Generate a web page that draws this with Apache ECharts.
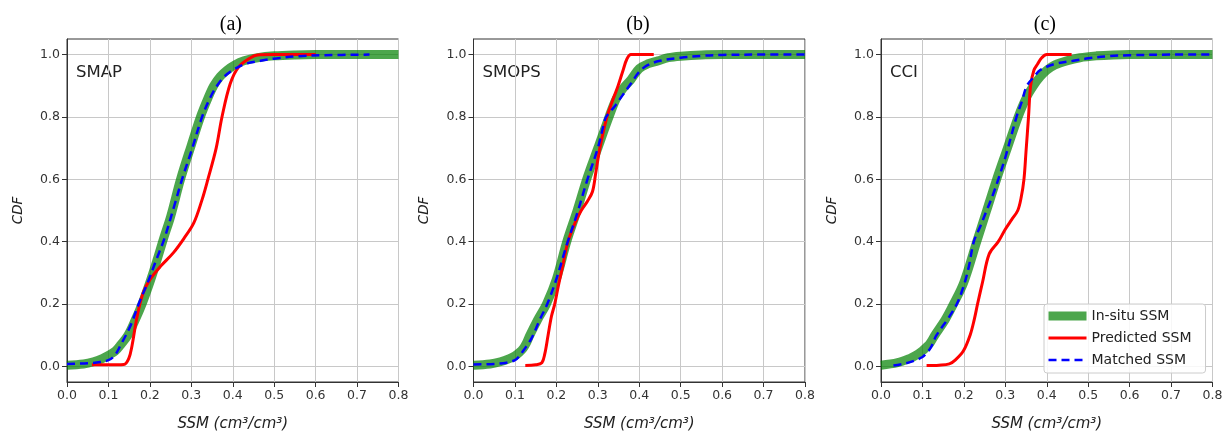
<!DOCTYPE html>
<html><head><meta charset="utf-8">
<script src="https://cdn.jsdelivr.net/npm/echarts@6.0.0/dist/echarts.min.js"></script>
<style>html,body{margin:0;padding:0;background:#fff}#c{width:1223px;height:431px}</style>
</head><body><div id="c"></div>
<script>
// ---- data (SSM value, CDF) ----
const panelTitles = ['(a)', '(b)', '(c)'];
const productNames = ['SMAP', 'SMOPS', 'CCI'];
const seriesNames = ['In-situ SSM', 'Predicted SSM', 'Matched SSM'];
const xTicks = [0, 0.1, 0.2, 0.3, 0.4, 0.5, 0.6, 0.7, 0.8];
const yTicks = [0, 0.2, 0.4, 0.6, 0.8, 1.0];

const smapInsitu = [[0,0.004],[0.04,0.008],[0.064,0.015],[0.085,0.025],[0.1,0.035],[0.117,0.05],[0.13,0.07],[0.147,0.1],[0.165,0.15],[0.181,0.2],[0.2,0.27],[0.217,0.34],[0.233,0.41],[0.25,0.48],[0.274,0.6],[0.3,0.71],[0.322,0.8],[0.34,0.86],[0.354,0.9],[0.37,0.93],[0.386,0.95],[0.405,0.967],[0.427,0.98],[0.46,0.99],[0.5,0.996],[0.55,0.999],[0.6,1.0],[0.8,1.0]];
const smapPredicted = [[0.06,0.005],[0.1,0.005],[0.137,0.006],[0.149,0.025],[0.157,0.067],[0.165,0.13],[0.173,0.184],[0.185,0.24],[0.201,0.28],[0.225,0.32],[0.257,0.365],[0.282,0.41],[0.306,0.46],[0.326,0.535],[0.34,0.6],[0.36,0.7],[0.374,0.8],[0.394,0.907],[0.414,0.96],[0.443,0.99],[0.46,0.999],[0.5,1.0],[0.6,1.0]];
const smapMatched = [[0,0.008],[0.05,0.01],[0.08,0.014],[0.1,0.02],[0.115,0.035],[0.129,0.067],[0.153,0.13],[0.173,0.2],[0.195,0.27],[0.215,0.34],[0.235,0.41],[0.26,0.52],[0.28,0.61],[0.3,0.69],[0.326,0.8],[0.345,0.86],[0.362,0.9],[0.38,0.93],[0.4,0.95],[0.43,0.97],[0.467,0.98],[0.5,0.987],[0.56,0.995],[0.62,0.998],[0.73,1.0]];

const smopsInsitu = [[0,0.004],[0.04,0.008],[0.065,0.015],[0.085,0.024],[0.1,0.034],[0.11,0.044],[0.12,0.058],[0.128,0.076],[0.136,0.1],[0.155,0.15],[0.176,0.2],[0.2,0.28],[0.225,0.4],[0.25,0.5],[0.273,0.6],[0.3,0.7],[0.327,0.8],[0.345,0.86],[0.36,0.89],[0.38,0.92],[0.4,0.955],[0.42,0.97],[0.445,0.98],[0.47,0.99],[0.5,0.995],[0.55,0.999],[0.6,1.0],[0.8,1.0]];
const smopsPredicted = [[0.125,0.003],[0.15,0.005],[0.165,0.012],[0.172,0.04],[0.18,0.1],[0.188,0.16],[0.196,0.2],[0.205,0.26],[0.215,0.32],[0.228,0.4],[0.245,0.46],[0.26,0.5],[0.275,0.53],[0.287,0.56],[0.295,0.62],[0.305,0.7],[0.322,0.8],[0.335,0.85],[0.349,0.9],[0.361,0.95],[0.37,0.985],[0.38,1.0],[0.435,1.0]];
const smopsMatched = [[0,0.006],[0.05,0.008],[0.08,0.012],[0.1,0.02],[0.11,0.032],[0.12,0.05],[0.14,0.09],[0.16,0.15],[0.178,0.2],[0.2,0.28],[0.225,0.39],[0.25,0.49],[0.275,0.6],[0.3,0.7],[0.315,0.78],[0.32,0.8],[0.34,0.833],[0.36,0.87],[0.38,0.907],[0.4,0.945],[0.42,0.966],[0.45,0.98],[0.5,0.99],[0.55,0.996],[0.6,0.999],[0.7,1.0],[0.8,1.0]];

const cciInsitu = [[0,0.004],[0.04,0.012],[0.07,0.026],[0.085,0.036],[0.1,0.05],[0.108,0.06],[0.118,0.074],[0.13,0.1],[0.155,0.15],[0.175,0.2],[0.2,0.27],[0.231,0.4],[0.255,0.5],[0.279,0.6],[0.305,0.7],[0.331,0.8],[0.35,0.86],[0.368,0.9],[0.385,0.93],[0.4,0.95],[0.42,0.967],[0.448,0.98],[0.48,0.99],[0.52,0.996],[0.56,0.999],[0.6,1.0],[0.8,1.0]];
const cciPredicted = [[0.11,0.003],[0.14,0.004],[0.165,0.008],[0.179,0.02],[0.199,0.05],[0.215,0.1],[0.225,0.15],[0.233,0.2],[0.245,0.27],[0.261,0.36],[0.283,0.4],[0.3,0.44],[0.315,0.47],[0.33,0.5],[0.338,0.54],[0.345,0.6],[0.35,0.69],[0.356,0.8],[0.361,0.9],[0.369,0.95],[0.378,0.97],[0.388,0.99],[0.4,1.0],[0.46,1.0]];
const cciMatched = [[0.03,0.003],[0.06,0.01],[0.08,0.018],[0.1,0.03],[0.11,0.043],[0.12,0.06],[0.134,0.1],[0.16,0.15],[0.183,0.2],[0.2,0.26],[0.212,0.32],[0.224,0.4],[0.24,0.45],[0.255,0.5],[0.27,0.55],[0.283,0.6],[0.3,0.67],[0.327,0.8],[0.34,0.85],[0.352,0.9],[0.37,0.93],[0.384,0.95],[0.42,0.97],[0.464,0.98],[0.5,0.988],[0.55,0.995],[0.6,0.998],[0.7,1.0],[0.8,1.0]];

const panelData = [
  [smapInsitu, smapPredicted, smapMatched],
  [smopsInsitu, smopsPredicted, smopsMatched],
  [cciInsitu, cciPredicted, cciMatched]
];

// ---- layout / style ----
const gridLeft = [67, 473.5, 881];
const gridTop = 39, gridW = 331.5, gridH = 343;
const axisColor = '#333';
const sans = 'DejaVu Sans';
const lineStyles = [
  {color: 'rgba(0,128,0,0.7)', width: 9, type: 'solid', join: 'round'},
  {color: '#ff0000', width: 3, type: 'solid', join: 'round'},
  {color: '#0000ff', width: 2.5, type: [8, 5], join: 'round'}
];

const grids = [], xAxes = [], yAxes = [], series = [], graphics = [];
for (let i = 0; i < 3; i++) {
  grids.push({left: gridLeft[i], top: gridTop, width: gridW, height: gridH,
    outerBoundsMode: 'none', containLabel: false,
    show: true, borderColor: axisColor, borderWidth: 1, backgroundColor: 'transparent'});
  xAxes.push({type: 'value', gridIndex: i, min: 0, max: 0.8, interval: 0.1,
    name: 'SSM (cm³/cm³)', nameLocation: 'middle', nameGap: 35,
    nameTextStyle: {fontFamily: sans, fontStyle: 'italic', fontSize: 15, color: '#222'},
    axisLine: {show: true, onZero: false, lineStyle: {color: axisColor}},
    axisTick: {show: true, length: 5, lineStyle: {color: axisColor}},
    axisLabel: {fontFamily: sans, fontSize: 12.5, color: '#333', margin: 7,
      formatter: v => v.toFixed(1), customValues: xTicks},
    splitLine: {show: true, lineStyle: {color: '#c8c8c8', width: 1}}});
  yAxes.push({type: 'value', gridIndex: i, min: -0.05, max: 1.05,
    name: 'CDF', nameLocation: 'middle', nameGap: 42,
    nameTextStyle: {fontFamily: sans, fontStyle: 'italic', fontSize: 13.5, color: '#222'},
    axisLine: {show: true, onZero: false, lineStyle: {color: axisColor}},
    axisTick: {show: true, length: 5, lineStyle: {color: axisColor}, customValues: yTicks},
    axisLabel: {fontFamily: sans, fontSize: 12.5, color: '#333', margin: 7,
      formatter: v => v.toFixed(1), customValues: yTicks},
    splitLine: {show: true, lineStyle: {color: '#c8c8c8', width: 1}}});
  for (let k = 0; k < 3; k++) {
    series.push({type: 'line', name: seriesNames[k], xAxisIndex: i, yAxisIndex: i,
      data: panelData[i][k], symbol: 'none', showSymbol: false,
      smooth: 0.35, lineStyle: lineStyles[k],
      itemStyle: {color: lineStyles[k].color}, z: 2 + k, animation: false});
  }
  graphics.push({type: 'text', left: gridLeft[i] + gridW / 2 - 13, top: 15,
    style: {text: panelTitles[i], font: '20px "Liberation Serif"', fill: '#000'}});
  graphics.push({type: 'text', left: gridLeft[i] + 9, top: 64,
    style: {text: productNames[i], font: '16.5px "DejaVu Sans"', fill: '#222'}});
}

const legendData = seriesNames.map((n, k) => ({
  name: n,
  itemStyle: {opacity: 0},
  lineStyle: {width: lineStyles[k].width, type: lineStyles[k].type, color: lineStyles[k].color}
}));

const chart = echarts.init(document.getElementById('c'), null, {renderer: 'canvas'});
chart.setOption({
  animation: false,
  grid: grids, xAxis: xAxes, yAxis: yAxes, series: series, graphic: graphics,
  legend: {data: legendData, orient: 'vertical', left: 1044, top: 304,
    itemWidth: 38, itemHeight: 14, itemGap: 8, padding: [5, 14, 6, 0],
    backgroundColor: 'rgba(255,255,255,0.85)', borderColor: '#cccccc', borderWidth: 1, borderRadius: 3,
    textStyle: {fontFamily: sans, fontSize: 14, color: '#222'}}
});
</script></body></html>
